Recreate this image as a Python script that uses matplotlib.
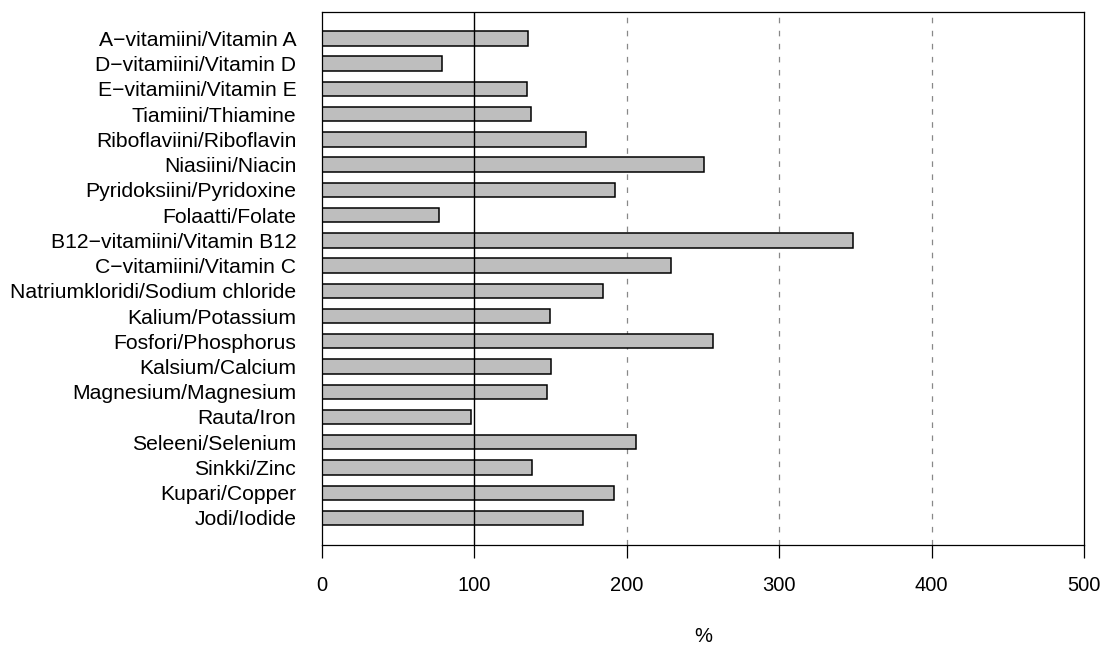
import matplotlib
matplotlib.use('Agg')
import matplotlib.pyplot as plt

names = ['A\u2212vitamiini/Vitamin A', 'D\u2212vitamiini/Vitamin D', 'E\u2212vitamiini/Vitamin E',
         'Tiamiini/Thiamine', 'Riboflaviini/Riboflavin', 'Niasiini/Niacin',
         'Pyridoksiini/Pyridoxine', 'Folaatti/Folate', 'B12\u2212vitamiini/Vitamin B12',
         'C\u2212vitamiini/Vitamin C', 'Natriumkloridi/Sodium chloride', 'Kalium/Potassium',
         'Fosfori/Phosphorus', 'Kalsium/Calcium', 'Magnesium/Magnesium', 'Rauta/Iron',
         'Seleeni/Selenium', 'Sinkki/Zinc', 'Kupari/Copper', 'Jodi/Iodide']
values = [135, 79, 134.5, 137, 173, 251, 192.5, 77, 348.5, 229,
          184.5, 149.5, 256.5, 150, 147.5, 97.5, 206, 138, 191.5, 171.5]
xticks = [0, 100, 200, 300, 400, 500]

plt.rcParams['font.family'] = ['Liberation Sans', 'DejaVu Sans']
plt.rcParams['font.size'] = 14.5
plt.rcParams['lines.scale_dashes'] = False

fig = plt.figure(figsize=(11.08, 6.45), dpi=100)
ax = fig.add_axes([0.2906, 0.1555, 0.6877, 0.8264])

pos = list(range(len(names)))
for x in [200, 300, 400]:
    ax.axvline(x, color='#888888', lw=0.9, dashes=(4, 5.4), zorder=1)
ax.barh(pos, values, height=0.57, color='#bebebe', edgecolor='black', linewidth=1.1, zorder=2)
ax.axvline(100, color='black', lw=1.0, zorder=3)

ax.set_xlim(0, 500)
ax.set_ylim(len(names) - 1 + 1.06, -1.06)
ax.set_yticks(pos)
ax.set_yticklabels(names, fontsize=15.2)
ax.tick_params(axis='y', length=0, pad=18.5)
ax.set_xticks(xticks)
ax.tick_params(axis='x', length=9.4, width=0.9, pad=13)
ax.set_xlabel('%', labelpad=23)
for s in ax.spines.values():
    s.set_linewidth(0.9)

fig.savefig('out.png', dpi=100)
